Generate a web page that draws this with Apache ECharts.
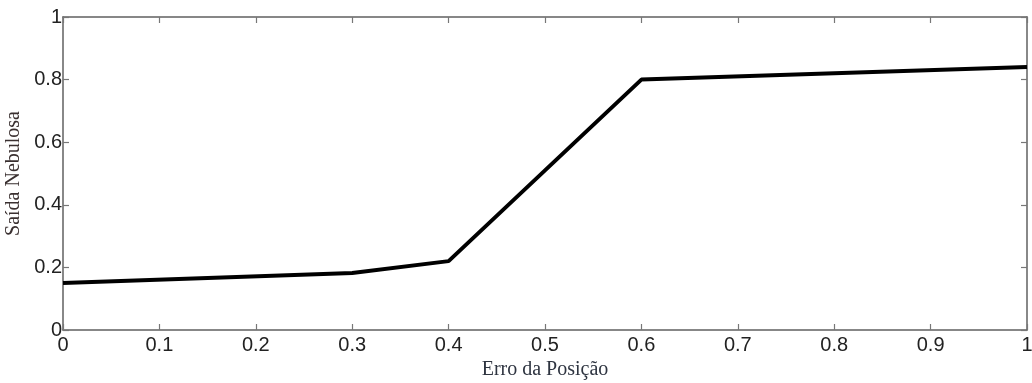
<!DOCTYPE html>
<html>
<head>
<meta charset="utf-8">
<script src="https://cdn.jsdelivr.net/npm/echarts@6/dist/echarts.min.js"></script>
<style>html,body{margin:0;padding:0;background:#fff}#c{width:1032px;height:383px}</style>
</head>
<body>
<div id="c"></div>
<script>
const xValues = [0, 0.3, 0.4, 0.5, 0.6, 1];
const yValues = [0.15, 0.182, 0.22, 0.51, 0.80, 0.84];
const xTickLabels = ['0','0.1','0.2','0.3','0.4','0.5','0.6','0.7','0.8','0.9','1'];
const yTickLabels = ['0','0.2','0.4','0.6','0.8','1'];
const xTitle = 'Erro da Posição';
const yTitle = 'Saída Nebulosa';

const chart = echarts.init(document.getElementById('c'), null, {renderer: 'canvas'});
const axisLine = () => ({show: true, onZero: false, lineStyle: {color: '#606060', width: 1.5}});
const tickStyle = () => ({show: true, inside: true, length: 6, lineStyle: {color: '#777', width: 1.2}});
const labelFont = {fontFamily: 'Liberation Sans, Arial, sans-serif', fontSize: 20, color: '#222'};
chart.setOption({
  animation: false,
  grid: {left: 63, top: 17, right: 5, bottom: 53, containLabel: false, outerBoundsMode: 'none'},
  xAxis: [{
    type: 'value', min: 0, max: 1, interval: 0.1,
    axisLine: axisLine(), axisTick: tickStyle(), splitLine: {show: false},
    axisLabel: Object.assign({margin: 5, formatter: (v) => xTickLabels[Math.round(v * 10)] }, labelFont),
    name: xTitle, nameLocation: 'middle', nameGap: 28,
    nameTextStyle: {fontFamily: 'Liberation Serif, Times New Roman, serif', fontSize: 20, color: '#2e3440'}
  }, {
    type: 'value', min: 0, max: 1, interval: 0.1, position: 'top',
    axisLine: axisLine(), axisTick: tickStyle(), axisLabel: {show: false}, splitLine: {show: false}
  }],
  yAxis: [{
    type: 'value', min: 0, max: 1, interval: 0.2,
    axisLine: axisLine(), axisTick: tickStyle(), splitLine: {show: false},
    axisLabel: Object.assign({margin: 1, formatter: (v) => yTickLabels[Math.round(v * 5)] }, labelFont),
    name: yTitle, nameLocation: 'middle', nameGap: 36,
    nameTextStyle: {fontFamily: 'Liberation Serif, Times New Roman, serif', fontSize: 20, color: '#3a3030'}
  }, {
    type: 'value', min: 0, max: 1, interval: 0.2, position: 'right',
    axisLine: axisLine(), axisTick: tickStyle(), axisLabel: {show: false}, splitLine: {show: false}
  }],
  series: [{
    type: 'line',
    data: xValues.map((x, i) => [x, yValues[i]]),
    symbol: 'none',
    lineStyle: {color: '#000', width: 4},
    z: 1
  }]
});
</script>
</body>
</html>
